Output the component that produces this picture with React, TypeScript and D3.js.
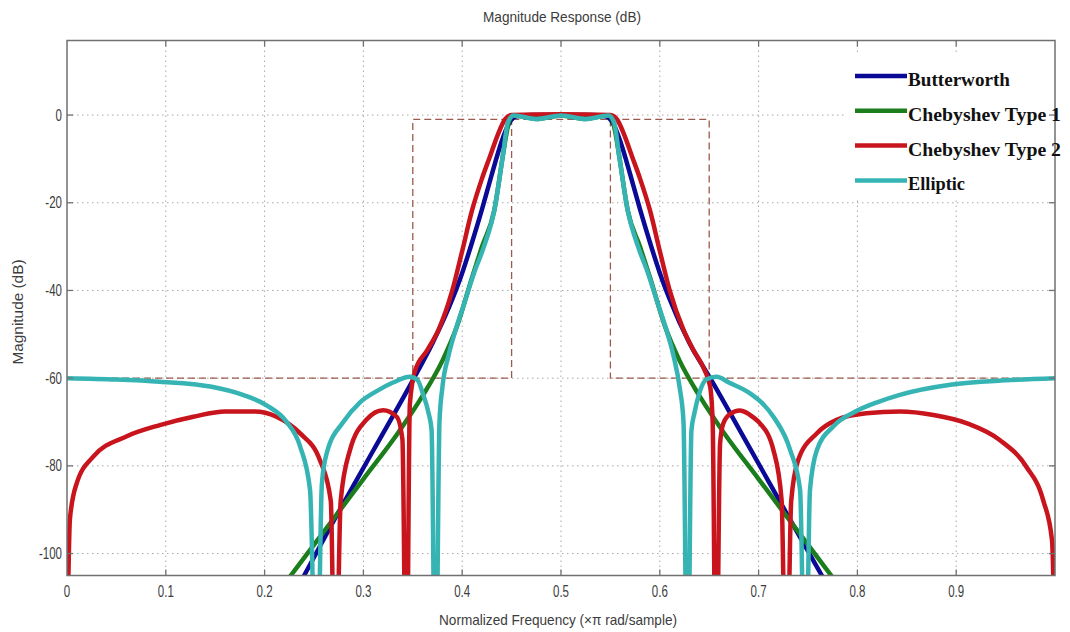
import React from 'react';
import * as d3 from 'd3';

type Pt = [number, number];

// ---------- data (frequency ×π rad/sample, magnitude dB) ----------
const xTicks = [0, 0.1, 0.2, 0.3, 0.4, 0.5, 0.6, 0.7, 0.8, 0.9];
const xTickLabels = ['0', '0.1', '0.2', '0.3', '0.4', '0.5', '0.6', '0.7', '0.8', '0.9'];
const yTicks = [0, -20, -40, -60, -80, -100];
const yTickLabels = ['0', '-20', '-40', '-60', '-80', '-100'];

const seriesNames = ['Butterworth', 'Chebyshev Type 1', 'Chebyshev Type 2', 'Elliptic'];

const butterworth: Pt[] = [
  [0.215, -115], [0.24, -105], [0.27, -92.5], [0.31, -76.5], [0.35, -60.5], [0.37, -52],
  [0.39, -42], [0.40, -36], [0.41, -29], [0.42, -21.5], [0.43, -13.5], [0.44, -6],
  [0.445, -3], [0.45, -1], [0.456, -0.2], [0.47, 0], [0.5, 0], [0.53, 0], [0.544, -0.2],
  [0.55, -1], [0.555, -3], [0.56, -6], [0.57, -13.5], [0.58, -21.5], [0.59, -29],
  [0.60, -36], [0.61, -42], [0.63, -52], [0.651, -60], [0.69, -75.5], [0.73, -91.5],
  [0.764, -105], [0.79, -115],
];

const chebyshev1: Pt[] = [
  [0.20, -113], [0.2265, -105], [0.26, -95], [0.30, -83], [0.335, -72.5], [0.36, -64],
  [0.38, -56], [0.395, -48], [0.41, -37], [0.42, -30], [0.4325, -21.7], [0.441, -9.5],
  [0.445, -4], [0.448, -1], [0.452, -0.1], [0.46, -0.3], [0.475, -0.9], [0.5, -0.1],
  [0.525, -0.9], [0.54, -0.3], [0.548, -0.1], [0.552, -1], [0.555, -4], [0.559, -9.5],
  [0.5675, -21.7], [0.58, -30], [0.59, -37], [0.605, -48], [0.62, -56], [0.64, -64],
  [0.665, -72.5], [0.70, -83], [0.74, -95], [0.7735, -105], [0.80, -113],
];

const chebyshev2: Pt[] = [
  [0, -125], [0.003, -92], [0.0098, -84], [0.0266, -77.9], [0.06, -73.3], [0.094, -70.7],
  [0.128, -68.8], [0.16, -67.6], [0.19, -67.6], [0.212, -68.8], [0.236, -72.6],
  [0.256, -78.7], [0.267, -88], [0.2715, -140], [0.277, -88], [0.2864, -76.4],
  [0.303, -69.5], [0.32, -67.3], [0.3337, -68.8], [0.3395, -74], [0.3435, -140],
  [0.347, -66], [0.352, -58.5], [0.365, -53.5], [0.376, -49], [0.39, -40], [0.40, -31],
  [0.41, -21.7], [0.42, -14.5], [0.428, -9.5], [0.436, -4.5], [0.443, -1.1], [0.45, 0],
  [0.5, 0.2], [0.55, 0], [0.557, -1.1], [0.564, -4.5], [0.572, -9.5], [0.58, -14.5],
  [0.59, -21.7], [0.60, -31], [0.61, -40], [0.624, -49], [0.634, -53.6], [0.645, -58],
  [0.651, -62], [0.6535, -70], [0.657, -140], [0.661, -75], [0.664, -70.5],
  [0.671, -68.2], [0.681, -67.4], [0.695, -69], [0.7014, -70.3], [0.715, -76.4],
  [0.7233, -87.8], [0.728, -140], [0.733, -88], [0.74, -78.7], [0.7588, -72.6],
  [0.779, -69.5], [0.809, -68], [0.843, -67.6], [0.877, -68.4], [0.911, -70.3],
  [0.944, -74.1], [0.971, -80.2], [0.988, -87.8], [0.997, -97], [1.0, -125],
];

const elliptic: Pt[] = [
  [0, -60], [0.05, -60.3], [0.094, -60.8], [0.145, -61.9], [0.178, -63.8], [0.202, -66.2],
  [0.222, -69.9], [0.236, -75.6], [0.246, -85.5], [0.2527, -140], [0.258, -84],
  [0.263, -77], [0.28, -69.9], [0.2966, -65.5], [0.313, -63], [0.33, -61], [0.347, -59.7],
  [0.355, -60.5], [0.36, -63.4], [0.366, -68], [0.369, -71.8], [0.373, -140], [0.377, -70],
  [0.38, -62], [0.386, -55], [0.392, -50], [0.402, -43], [0.412, -36], [0.422, -30],
  [0.4325, -21.7], [0.441, -9.5], [0.4465, -1.5], [0.452, -0.1], [0.475, -0.9],
  [0.5, -0.1], [0.525, -0.9], [0.548, -0.1], [0.5535, -1.5], [0.559, -9.5],
  [0.5675, -21.7], [0.578, -30], [0.588, -36], [0.598, -43], [0.608, -50], [0.614, -55],
  [0.62, -62], [0.624, -70], [0.628, -140], [0.632, -72], [0.635, -68], [0.64, -63.4],
  [0.647, -60.3], [0.6576, -59.7], [0.67, -61], [0.691, -63.4], [0.705, -66],
  [0.715, -68.8], [0.732, -76.4], [0.742, -85.5], [0.7473, -140], [0.752, -85.5],
  [0.759, -76.4], [0.7756, -71], [0.799, -67.5], [0.82, -65.5], [0.843, -63.8],
  [0.894, -61.5], [0.95, -60.5], [1.0, -60],
];

const specOuter: Pt[] = [
  [0, -60], [0.35, -60], [0.35, -1], [0.65, -1], [0.65, -60], [1, -60],
];
const specInnerLeft: Pt[] = [[0.35, -60], [0.45, -60], [0.45, -1]];
const specInnerRight: Pt[] = [[0.55, -1], [0.55, -60], [0.65, -60]];

// ---------- styles ----------
const seriesColors = ['#0a0a96', '#1b7d1b', '#c8141c', '#36b4b4'];
const gridColor = '#a8a8a8';
const axisColor = '#707070';
const textColor = '#3c3c3c';
const maskColor = '#9c5a4c';

export default function App() {
  const W = 1070;
  const H = 632;
  const L = 67;
  const R = 1055;
  const T = 40.5;
  const B = 575.5;

  const x = d3.scaleLinear().domain([0, 1]).range([L, R]);
  const y = d3.scaleLinear().domain([-105, 17]).range([B, T]);

  const curve = d3
    .line<Pt>()
    .x((d) => x(d[0]))
    .y((d) => y(d[1]))
    .curve(d3.curveMonotoneX);
  const straight = d3
    .line<Pt>()
    .x((d) => x(d[0]))
    .y((d) => y(d[1]));

  const series = [butterworth, chebyshev1, chebyshev2, elliptic];
  const tickLen = 6;
  const narrow = 'Liberation Sans, Arial, sans-serif';

  return (
    <svg
      width={W}
      height={H}
      style={{ position: 'absolute', left: 0, top: 0, background: '#fff', display: 'block' }}
    >
      <defs>
        <clipPath id="plotClip">
          <rect x={L} y={T} width={R - L} height={B - T} />
        </clipPath>
      </defs>
      <rect x={0} y={0} width={W} height={H} fill="#fff" />

      {/* grid */}
      <g stroke={gridColor} strokeWidth={1} strokeDasharray="1.5,3.5">
        {xTicks.filter((t) => t > 0).map((t) => (
          <line key={'gx' + t} x1={x(t)} x2={x(t)} y1={T} y2={B} />
        ))}
        {yTicks.map((t) => (
          <line key={'gy' + t} x1={L} x2={R} y1={y(t)} y2={y(t)} />
        ))}
      </g>

      {/* legend background hides grid */}
      <rect x={845} y={55} width={R - 845} height={144} fill="#fff" />

      {/* specification mask */}
      <g clipPath="url(#plotClip)" fill="none" stroke={maskColor} strokeWidth={1.3} strokeDasharray="7,4">
        <path d={straight(specOuter) || ''} />
        <path d={straight(specInnerLeft) || ''} />
        <path d={straight(specInnerRight) || ''} />
      </g>

      {/* responses */}
      <g clipPath="url(#plotClip)" fill="none" strokeLinejoin="round" strokeLinecap="round">
        {series.map((s, i) => (
          <path key={seriesNames[i]} d={curve(s) || ''} stroke={seriesColors[i]} strokeWidth={4.5} />
        ))}
      </g>

      {/* axes box */}
      <rect x={L} y={T} width={R - L} height={B - T} fill="none" stroke={axisColor} strokeWidth={1.5} />
      <g stroke={axisColor} strokeWidth={1.3}>
        {xTicks.filter((t) => t > 0).map((t) => (
          <g key={'tx' + t}>
            <line x1={x(t)} x2={x(t)} y1={B} y2={B - tickLen} />
            <line x1={x(t)} x2={x(t)} y1={T} y2={T + tickLen} />
          </g>
        ))}
        {yTicks.map((t) => (
          <g key={'ty' + t}>
            <line x1={L} x2={L + tickLen} y1={y(t)} y2={y(t)} />
            <line x1={R} x2={R - tickLen} y1={y(t)} y2={y(t)} />
          </g>
        ))}
      </g>

      {/* tick labels */}
      <g fill={textColor} fontFamily={narrow} fontSize={16}>
        {xTicks.map((t, i) => (
          <text key={'lx' + t} textAnchor="middle" transform={`translate(${x(t)},597) scale(0.72,1)`}>
            {xTickLabels[i]}
          </text>
        ))}
        {yTicks.map((t, i) => (
          <text key={'ly' + t} textAnchor="end" transform={`translate(62,${y(t) + 5.5}) scale(0.72,1)`}>
            {yTickLabels[i]}
          </text>
        ))}
      </g>

      {/* title and axis labels */}
      <g fill={textColor} fontFamily={narrow} fontSize={15}>
        <text x={562} y={22} textAnchor="middle" textLength={158} lengthAdjust="spacingAndGlyphs">
          Magnitude Response (dB)
        </text>
        <text x={558} y={625} textAnchor="middle" textLength={238} lengthAdjust="spacingAndGlyphs">
          Normalized Frequency (×π rad/sample)
        </text>
        <text
          transform="translate(23,312) rotate(-90)"
          textAnchor="middle"
          textLength={105}
          lengthAdjust="spacingAndGlyphs"
        >
          Magnitude (dB)
        </text>
      </g>

      {/* legend */}
      <g>
        {seriesNames.map((name, i) => {
          const ly = 76 + i * 34.8;
          const widths = [102, 153, 153, 57];
          return (
            <g key={'lg' + name}>
              <line x1={855} x2={907} y1={ly} y2={ly} stroke={seriesColors[i]} strokeWidth={4.5} />
              <text
                x={908}
                y={ly + 10}
                fontFamily="Liberation Serif, 'Times New Roman', serif"
                fontWeight="bold"
                fontSize={18}
                fill="#111"
                textLength={widths[i]}
                lengthAdjust="spacingAndGlyphs"
              >
                {name}
              </text>
            </g>
          );
        })}
      </g>
    </svg>
  );
}
